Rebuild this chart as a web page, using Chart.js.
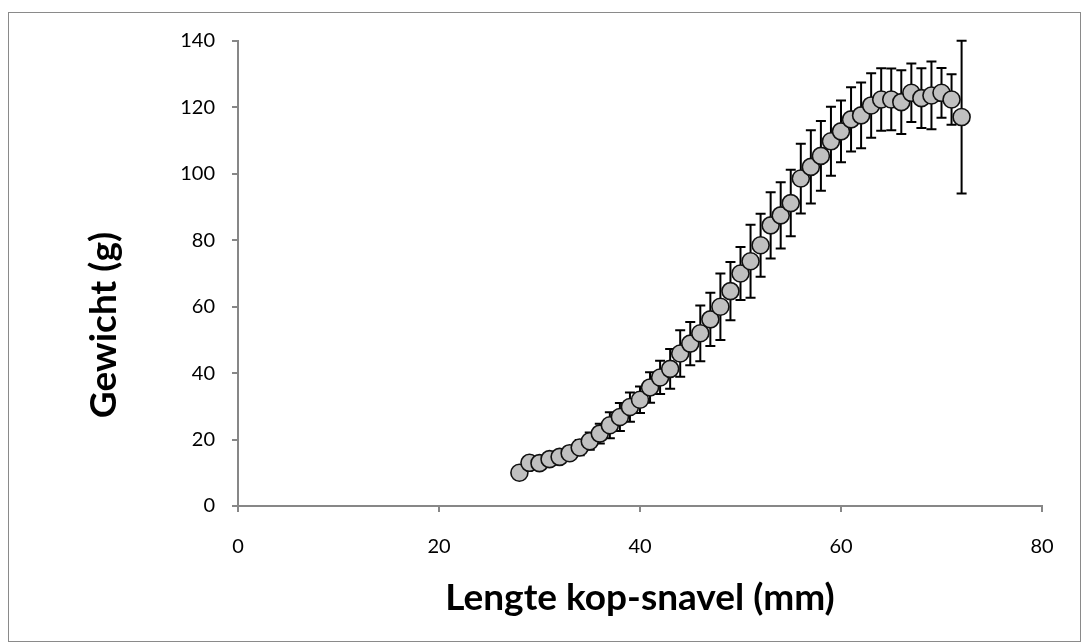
<!DOCTYPE html>
<html>
<head>
<meta charset="utf-8">
<script src="https://cdn.jsdelivr.net/npm/chart.js@4.4.1/dist/chart.umd.min.js"></script>
<style>
  html, body { margin: 0; padding: 0; background: #ffffff; }
  #wrap { position: relative; width: 1082px; height: 643px; }
  canvas { display: block; }
</style>
</head>
<body>
<div id="wrap"><canvas id="c" width="1082" height="643"></canvas></div>
<script>
// Lengte kop-snavel (mm)
const lengths = [28, 29, 30, 31, 32, 33, 34, 35, 36, 37, 38, 39, 40, 41, 42, 43, 44, 45, 46, 47, 48, 49, 50,
                 51, 52, 53, 54, 55, 56, 57, 58, 59, 60, 61, 62, 63, 64, 65, 66, 67, 68, 69, 70, 71, 72];
// Gewicht (g) - mean
const weights = [10.0, 13.0, 12.9, 14.1, 14.8, 15.9, 17.6, 19.5, 21.8, 24.3, 26.8, 29.8, 32.0, 35.7, 38.7, 41.3,
                 45.9, 48.9, 52.0, 56.2, 60.0, 64.7, 70.0, 73.7, 78.5, 84.5, 87.5, 91.2, 98.6, 102.1, 105.4,
                 109.8, 112.8, 116.4, 117.6, 120.6, 122.4, 122.4, 121.6, 124.4, 122.8, 123.6, 124.4, 122.4, 117.1];
// Error (+/-)
const errors = [1.0, 1.2, 1.2, 1.4, 1.6, 2.0, 2.3, 2.6, 3.0, 3.9, 4.2, 4.4, 4.0, 4.6, 5.0, 6.0,
                7.0, 6.5, 8.4, 8.0, 10.0, 8.8, 8.0, 11.0, 9.5, 10.0, 10.0, 10.0, 10.5, 11.0, 10.5,
                10.4, 9.3, 9.7, 9.9, 9.7, 9.4, 9.3, 9.6, 8.8, 9.0, 10.2, 7.5, 7.6, 23.0];
const xTitle = 'Lengte kop-snavel (mm)';
const yTitle = 'Gewicht (g)';
const xMin = 0, xMax = 80, xStep = 20;
const yMin = 0, yMax = 140, yStep = 20;

const points = lengths.map((x, i) => ({ x: x, y: weights[i] }));
const axisColor = '#878787';
const FONT = 'Lato, "Open Sans", sans-serif';

const frame = {
  id: 'frame',
  beforeDraw(chart) {
    const ctx = chart.ctx;
    ctx.save();
    ctx.fillStyle = '#ffffff';
    ctx.fillRect(0, 0, chart.width, chart.height);
    ctx.strokeStyle = '#8a8a8a';
    ctx.lineWidth = 1;
    ctx.strokeRect(8.5, 12.5, 1072, 629);
    ctx.restore();
  }
};

const errorBars = {
  id: 'errorBars',
  beforeDatasetsDraw(chart) {
    const ctx = chart.ctx;
    const xs = chart.scales.x, ys = chart.scales.y;
    ctx.save();
    ctx.strokeStyle = '#000000';
    ctx.lineWidth = 2;
    lengths.forEach((x, i) => {
      const px = xs.getPixelForValue(x);
      const top = ys.getPixelForValue(weights[i] + errors[i]);
      const bot = ys.getPixelForValue(weights[i] - errors[i]);
      ctx.beginPath();
      ctx.moveTo(px, top); ctx.lineTo(px, bot);
      ctx.moveTo(px - 5, top); ctx.lineTo(px + 5, top);
      ctx.moveTo(px - 5, bot); ctx.lineTo(px + 5, bot);
      ctx.stroke();
    });
    ctx.restore();
  }
};

const yTitlePlugin = {
  id: 'yTitlePlugin',
  afterDraw(chart) {
    const ctx = chart.ctx;
    ctx.save();
    ctx.translate(104, 325);
    ctx.rotate(-Math.PI / 2);
    ctx.font = 'bold 37px ' + FONT;
    ctx.fillStyle = '#000000';
    ctx.textAlign = 'center';
    ctx.textBaseline = 'middle';
    ctx.fillText(yTitle, 0, 0);
    ctx.restore();
  }
};

new Chart(document.getElementById('c'), {
  type: 'scatter',
  data: {
    datasets: [{
      data: points,
      showLine: false,
      pointRadius: 8.5,
      pointHoverRadius: 8.5,
      pointBackgroundColor: '#c0c0c0',
      pointBorderColor: '#111111',
      pointBorderWidth: 1.6
    }]
  },
  options: {
    responsive: false,
    animation: false,
    events: [],
    layout: { padding: { left: 0, right: 40, top: 41, bottom: 0 } },
    plugins: { legend: { display: false }, tooltip: { enabled: false } },
    scales: {
      x: {
        type: 'linear', min: xMin, max: xMax,
        ticks: { stepSize: xStep, color: '#000000', font: { family: FONT, size: 20 }, padding: 23 },
        grid: { drawOnChartArea: false, drawTicks: true, tickLength: 6, color: axisColor, lineWidth: 2 },
        border: { color: axisColor, width: 2 },
        title: { display: true, text: xTitle, color: '#000000', font: { family: FONT, size: 37, weight: 'bold' }, padding: { top: 0, bottom: 23 } },
        afterFit(scale) { scale.height = 137; }
      },
      y: {
        type: 'linear', min: yMin, max: yMax,
        ticks: { stepSize: yStep, color: '#000000', font: { family: FONT, size: 20 }, padding: 17 },
        grid: { drawOnChartArea: false, drawTicks: true, tickLength: 6, color: axisColor, lineWidth: 2 },
        border: { color: axisColor, width: 2 },
        afterFit(scale) { scale.width = 238; }
      }
    }
  },
  plugins: [frame, errorBars, yTitlePlugin]
});
</script>
</body>
</html>
